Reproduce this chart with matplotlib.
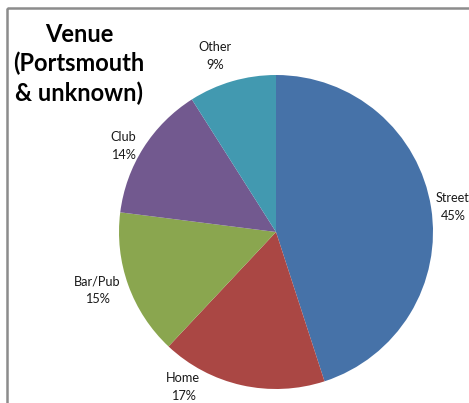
import matplotlib
matplotlib.use("Agg")
import matplotlib.pyplot as plt
from matplotlib.patches import Rectangle

# Venue breakdown (percent)
categories = ["Street", "Home", "Bar/Pub", "Club", "Other"]
values = [45, 17, 15, 14, 9]
colors = ["#4672A8", "#AA4744", "#8AA64F", "#72598F", "#4299B0"]

# label anchor points in figure pixels (x, y from top)
label_pos = [(453, 207), (183, 387), (97, 290), (123, 146), (215, 56)]

W, H = 469, 403
fig = plt.figure(figsize=(W / 100, H / 100), dpi=100)
fig.patch.set_facecolor("white")

# chart-area frame, running off the right and bottom edges
frame_ax = fig.add_axes([0, 0, 1, 1])
frame_ax.set_xlim(0, W)
frame_ax.set_ylim(H, 0)
frame_ax.axis("off")
frame_ax.add_patch(Rectangle((7, 8), W + 20, H + 20, fill=False,
                             edgecolor="#8c8c8c", linewidth=1.8))

# pie axes
cx, cy, r = 276, 232, 157
ax = fig.add_axes([(cx - r) / W, (H - cy - r) / H, 2 * r / W, 2 * r / H])
ax.pie(values, colors=colors, startangle=90, counterclock=False,
       wedgeprops=dict(linewidth=0))
ax.set_xlim(-1, 1)
ax.set_ylim(-1, 1)
ax.set_aspect("equal")
ax.axis("off")

font = ["Lato", "DejaVu Sans"]
for cat, val, (x, y) in zip(categories, values, label_pos):
    frame_ax.text(x, y, f"{cat}\n{val}%", ha="center", va="center",
                  fontsize=9.2, family=font, color="#1a1a1a",
                  linespacing=1.55, clip_on=True)

frame_ax.text(79, 64, "Venue\n(Portsmouth\n& unknown)", ha="center",
              va="center", fontsize=17, fontweight="bold", family=font,
              color="black", linespacing=1.3)

fig.savefig("out.png", dpi=100)
